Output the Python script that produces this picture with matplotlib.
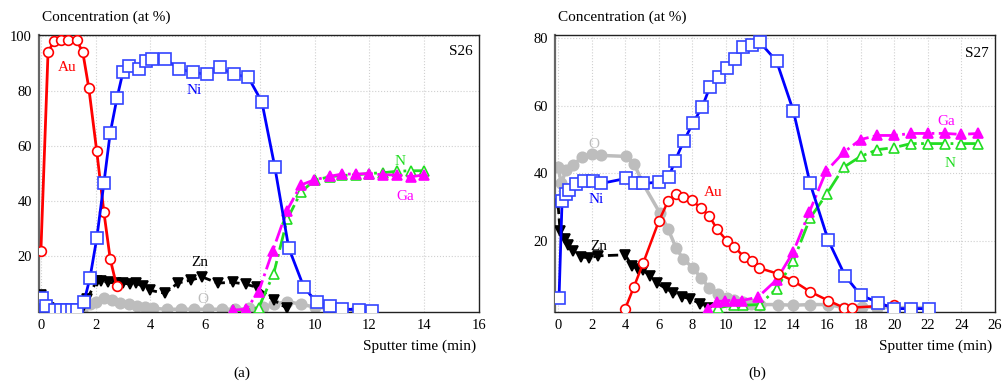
import numpy as np
import matplotlib
matplotlib.use("Agg")
import matplotlib.pyplot as plt

plt.rcParams['font.family'] = ['Liberation Serif', 'DejaVu Serif']

# ---- panel (a), sample S26 ----
a_au_t = [0, 0.26, 0.47, 0.73, 1.0, 1.3, 1.53, 1.75, 2.04, 2.3, 2.53, 2.77]
a_au_c = [22, 94, 98, 98.5, 98.5, 98.5, 94, 81, 58, 36, 19, 9]

a_ni_t = [0.03, 0.2, 0.5, 0.73, 0.95, 1.13, 1.31, 1.57, 1.79, 2.04, 2.3, 2.53, 2.78,
          3.0, 3.23, 3.58, 3.82, 4.05, 4.53, 5.03, 5.57, 6.07, 6.53, 7.05, 7.57,
          8.07, 8.54, 9.05, 9.6, 10.07, 10.55, 11.0, 11.6, 12.1]
a_ni_c = [4.7, 2, 0.5, 0.5, 0.5, 0.5, 0.5, 3.3, 12, 26.5, 46.5, 64.7, 77.5,
          87, 89, 88, 91, 91.5, 91.7, 88, 86.7, 86, 88.5, 86, 85,
          76, 52.5, 23, 8.8, 3.2, 1.8, 0.7, 0.6, 0.2]

a_zn_t = [0, 0.3, 1.5, 1.68, 2.04, 2.2, 2.44, 2.74, 3.0, 3.25, 3.47, 3.72, 3.98,
          4.53, 5.0, 5.47, 5.9, 6.46, 7.0, 7.48, 7.88, 8.5, 9.0]
a_zn_c = [5.8, 1, 0.7, 4.4, 11, 11, 10.5, 10.2, 10.2, 9.8, 10.2, 9, 7.6,
          6.5, 10.2, 11.3, 12.4, 10.2, 10.5, 9.8, 8.7, 4, 1]

a_o_t = [0, 0.3, 1.5, 1.8, 2.0, 2.3, 2.6, 2.9, 3.2, 3.5, 3.8, 4.1, 4.6, 5.1, 5.6,
         6.1, 6.6, 7.1, 7.6, 8.1, 8.5, 9.0, 9.5, 10.0, 10.5, 11.0, 11.5]
a_o_c = [3, 1, 0.5, 2.5, 3.5, 4.7, 4, 3, 2.5, 2, 1.5, 1, 0.7, 0.7, 0.7,
         0.7, 0.7, 0.7, 1, 1.5, 2.5, 3.5, 2.5, 1.5, 1, 0.7, 0.5]

a_ga_t = [7.0, 7.5, 7.95, 8.47, 8.98, 9.49, 9.96, 10.55, 11.0, 11.5, 12.0, 12.5, 13.0, 13.5, 14.0]
a_ga_c = [0.4, 0.7, 7, 22, 36.4, 45.8, 47.6, 49, 49.8, 49.8, 50, 49.5, 49.5, 48.8, 49.5]

a_n_t = [7.0, 7.5, 7.95, 8.5, 9.0, 9.5, 10.0, 10.55, 11.0, 11.5, 12.0, 12.5, 13.0, 13.5, 14.0]
a_n_c = [0.3, 0.3, 1.2, 13.6, 33.5, 43.3, 47.6, 48.8, 49.3, 49.5, 50, 50.3, 50.8, 51, 51]

# ---- panel (b), sample S27 ----
b_ni_t = [0.06, 0.24, 0.45, 0.65, 1.07, 1.55, 2.08, 2.56, 4.05, 4.58, 5.06, 6.0, 6.6,
          6.96, 7.5, 8.04, 8.57, 9.04, 9.58, 10.06, 10.54, 11.0, 11.55, 12.0, 13.0,
          14.0, 15.0, 16.07, 17.08, 18.0, 19.05, 20.0, 21.0, 22.1]
b_ni_c = [3.2, 31.8, 34, 35, 36.7, 37.6, 37.6, 37, 38.5, 37, 37, 37.4, 39,
          43.7, 49.7, 55, 59.5, 65.6, 68.5, 71.2, 73.8, 77.4, 78, 78.8, 73.2,
          58.5, 37, 20.3, 9.7, 4, 1.8, 0, 0, 0]

b_o_t = [0, 0.2, 0.47, 0.9, 1.43, 2.0, 2.56, 4.05, 4.52, 5.05, 6.07, 6.55, 7.02,
         7.44, 8.04, 8.5, 8.99, 9.52, 10.06, 10.5, 11.0, 11.5, 12.0, 13.1, 14.0,
         15.0, 16.07, 17.0, 18.1, 19.0, 20.0, 21.0, 22.0]
b_o_c = [41.8, 37, 41, 42.6, 44.7, 45.8, 45.3, 45, 42.9, 37, 28.2, 23.5, 18,
         14.7, 12, 9.1, 6.2, 4.4, 3, 2.5, 2, 1.5, 1.2, 1.2, 1,
         1.2, 1.2, 0.3, 0.6, 0.3, 0.3, 0.3, 0.3]

b_zn_t = [0, 0.12, 0.42, 0.6, 0.9, 1.37, 1.85, 2.38, 4.0, 4.4, 4.77, 5.05, 5.5,
          5.9, 6.4, 6.85, 7.4, 7.86, 8.45, 8.9]
b_zn_c = [31, 23, 20.6, 18.8, 17, 15.3, 15, 15.6, 15.9, 12.6, 11.8, 11.5, 9.5,
          7.5, 6, 4.7, 3.5, 2.9, 1.5, 0.3]

b_au_t = [4.0, 4.52, 5.07, 6.0, 6.55, 7.0, 7.44, 7.98, 8.5, 9.0, 9.46, 10.06, 10.5,
          11.07, 11.55, 11.96, 13.1, 14.0, 15.0, 16.07, 17.0, 17.5, 20.0]
b_au_c = [0, 6.5, 13.5, 25.9, 31.8, 33.8, 33, 32, 29.7, 27.4, 23.5, 20, 18.2,
          15.3, 14.1, 12, 10.3, 8.2, 5, 2.4, 0.3, 0.3, 1]

b_ga_t = [8.9, 9.45, 9.94, 10.5, 10.95, 11.9, 13.0, 14.0, 14.95, 15.95, 17.0, 18.0,
          19.0, 20.0, 21.0, 22.0, 23.0, 24.0, 25.0]
b_ga_c = [0, 2, 2.4, 2.4, 2.4, 3.4, 8.5, 16.8, 28.5, 40.6, 46.2, 50,
          51.2, 51.2, 51.8, 51.8, 51.8, 51.5, 51.8]

b_n_t = [9.5, 10.5, 11.0, 12.0, 13.0, 14.0, 15.0, 16.0, 17.0, 18.0, 19.0, 20.0,
         21.0, 22.0, 23.0, 24.0, 25.0]
b_n_c = [0.3, 1, 1, 1.2, 5.9, 14.1, 26.8, 34, 41.8, 45, 47, 47.6,
         48.8, 48.8, 48.8, 48.8, 48.8]

C_NI = '#0000ff'
C_AU = '#ff0000'
C_ZN = '#000000'
C_O = '#bdbdbd'
C_GA = '#ff00ff'
C_N = '#22dd22'

fig = plt.figure(figsize=(10.08, 3.82), dpi=100)
axa = fig.add_axes([39 / 1008, 1 - 312 / 382, 440 / 1008, 277 / 382])
axb = fig.add_axes([555 / 1008, 1 - 312 / 382, 440 / 1008, 277 / 382])


def draw_series(ax, t, c, col, marker, ls='-', filled=False, ms=7.5, lw=2, z=3, mec=None):
    ax.plot(t, c, color=col, ls=ls, lw=lw, marker=marker, ms=ms,
            mfc=col if filled else 'white', mec=mec or col, mew=1.2, zorder=z)


def style_axes(ax, xticks, yticks, xlim, ylim):
    ax.set_xlim(*xlim)
    ax.set_ylim(*ylim)
    ax.set_xticks(xticks)
    ax.set_yticks(yticks)
    ax.grid(True, color='#d0d0d0', ls=':', lw=0.8)
    ax.set_axisbelow(True)
    ax.tick_params(length=0, labelsize=10.5, pad=5)
    for s in ax.spines.values():
        s.set_linewidth(1.0)
        s.set_color('#222222')
    ax.spines['left'].set_color('#666666')
    ax.spines['left'].set_linewidth(1.6)


# panel (a)
draw_series(axa, a_o_t, a_o_c, C_O, 'o', filled=True, lw=2.5, z=2)
draw_series(axa, a_zn_t, a_zn_c, C_ZN, 'v', ls='--', filled=True, z=3)
draw_series(axa, a_n_t, a_n_c, C_N, '^', ls='-.', z=4)
draw_series(axa, a_ga_t, a_ga_c, C_GA, '^', ls='-.', filled=True, z=4)
draw_series(axa, a_au_t, a_au_c, C_AU, 'o', ms=7, z=5)
draw_series(axa, a_ni_t, a_ni_c, C_NI, 's', ms=8, z=5, mec='#3344ff')
style_axes(axa, [0, 2, 4, 6, 8, 10, 12, 14, 16], [20, 40, 60, 80, 100], (-0.07, 16), (-0.3, 100.3))

axa.text(0.95, 88.4, 'Au', color=C_AU, fontsize=11, ha='center', va='center', zorder=6)
axa.text(5.6, 80.2, 'Ni', color=C_NI, fontsize=11, ha='center', va='center', zorder=6)
axa.text(5.8, 17.8, 'Zn', color=C_ZN, fontsize=11, ha='center', va='center', zorder=6)
axa.text(5.9, 4.4, 'O', color=C_O, fontsize=11, ha='center', va='center', zorder=6)
axa.text(13.1, 54.5, 'N', color=C_N, fontsize=11, ha='center', va='center', zorder=6)
axa.text(13.3, 41.5, 'Ga', color=C_GA, fontsize=11, ha='center', va='center', zorder=6)
axa.text(0.985, 0.94, 'S26', transform=axa.transAxes, fontsize=11, ha='right', va='center')

# panel (b)
draw_series(axb, b_o_t, b_o_c, C_O, 'o', filled=True, lw=2.5, z=2)
draw_series(axb, b_zn_t, b_zn_c, C_ZN, 'v', ls='--', filled=True, z=3)
draw_series(axb, b_n_t, b_n_c, C_N, '^', ls='-.', z=4)
draw_series(axb, b_ga_t, b_ga_c, C_GA, '^', ls='-.', filled=True, z=4)
draw_series(axb, b_au_t, b_au_c, C_AU, 'o', ms=7, lw=1.8, z=5)
draw_series(axb, b_ni_t, b_ni_c, C_NI, 's', ms=8, z=5, mec='#3344ff')
style_axes(axb, list(range(0, 27, 2)), [20, 40, 60, 80], (-0.18, 26), (-1, 80.9))

axb.text(2.14, 48.5, 'O', color=C_O, fontsize=11, ha='center', va='center', zorder=6)
axb.text(2.25, 32.2, 'Ni', color=C_NI, fontsize=11, ha='center', va='center', zorder=6)
axb.text(9.26, 34.3, 'Au', color=C_AU, fontsize=11, ha='center', va='center', zorder=6)
axb.text(2.43, 18.3, 'Zn', color=C_ZN, fontsize=11, ha='center', va='center', zorder=6)
axb.text(23.1, 55.3, 'Ga', color=C_GA, fontsize=11, ha='center', va='center', zorder=6)
axb.text(23.3, 42.9, 'N', color=C_N, fontsize=11, ha='center', va='center', zorder=6)
axb.text(0.985, 0.935, 'S27', transform=axb.transAxes, fontsize=11, ha='right', va='center')

for ax, lab in ((axa, '(a)'), (axb, '(b)')):
    ax.text(0.007, 1.065, 'Concentration (at %)', transform=ax.transAxes,
            fontsize=11, ha='left', va='center')
    ax.text(0.993, -0.125, 'Sputter time (min)', transform=ax.transAxes,
            fontsize=11, ha='right', va='center')
    ax.text(0.46, -0.22, lab, transform=ax.transAxes, fontsize=11, ha='center', va='center')

fig.savefig('out.png', dpi=100)
